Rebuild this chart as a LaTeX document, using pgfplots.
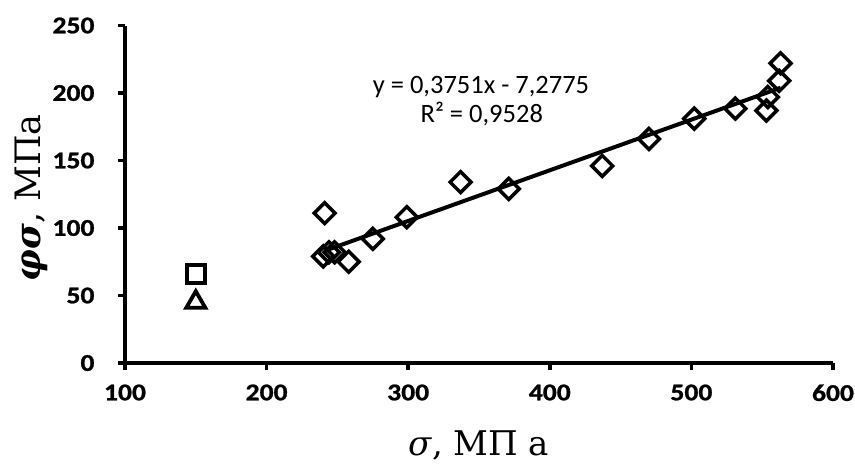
\documentclass[border=0pt]{standalone}
\usepackage{fontspec}
\setmainfont{Carlito}
\newfontfamily\tickfont[FakeStretch=1.15, FakeBold=1]{Carlito Bold}
\newfontfamily\labelfont{DejaVu Serif}
\usepackage{pgfplots}
\pgfplotsset{compat=1.18}

% measured points (sigma, phi*sigma)
\pgfplotstableread{
x y
241 111
240 79
244 82
248 82
258 75
275 92
299 108
337 134
371 129
437 146
470 166
502 181
531 188.5
553 187
554 197
562 209
563 222
}\mainpts

\begin{document}
\begin{tikzpicture}
\useasboundingbox (-125pt,-101pt) rectangle (730pt,363pt);
\begin{axis}[
  at={(0,0)}, anchor=south west,
  scale only axis, width=708pt, height=337.5pt,
  xmin=100, xmax=600, ymin=0, ymax=250,
  xtick={100,200,...,600}, ytick={0,50,...,250},
  axis x line*=bottom, axis y line*=left,
  axis line style={line width=3.5pt},
  every tick/.style={line width=3.5pt,black},
  tick align=outside, major tick length=7pt,
  /pgf/number format/assume math mode=true,
  tick label style={font=\tickfont\fontsize{24}{26}\selectfont},
  xticklabel style={yshift=-11pt},
  yticklabel style={xshift=-20pt},
  xlabel={\labelfont\fontsize{34}{38}\selectfont\itshape σ\upshape, МП а},
  xlabel style={at={(axis description cs:0.5,-0.2726)}, anchor=base},
  ylabel={\labelfont\fontsize{35}{38}\selectfont\bfseries\itshape φσ\upshape\mdseries, МПа},
  ylabel style={at={(axis description cs:-0.12,0.49)}, anchor=base},
  clip=false,
]
\addplot[only marks, mark=square, mark size=7.4pt,
  mark options={rotate=45, line width=3.5pt, black}] table {\mainpts};
\addplot[only marks, mark=square, mark size=9pt,
  mark options={line width=4pt, black}] coordinates {(150,66)};
\addplot[only marks, mark=triangle, mark size=11pt,
  mark options={line width=3.8pt, black}] coordinates {(150,45)};
\addplot[line width=4pt, black] coordinates {(241,83.1) (563,203.9)};
\node[anchor=base, font=\fontsize{26.5}{30}\selectfont] at (axis cs:351.4,200) {y = 0,3751x - 7,2775};
\node[anchor=base, font=\fontsize{26.5}{30}\selectfont] at (axis cs:352,177.8) {R² = 0,9528};
\end{axis}
\end{tikzpicture}
\end{document}
